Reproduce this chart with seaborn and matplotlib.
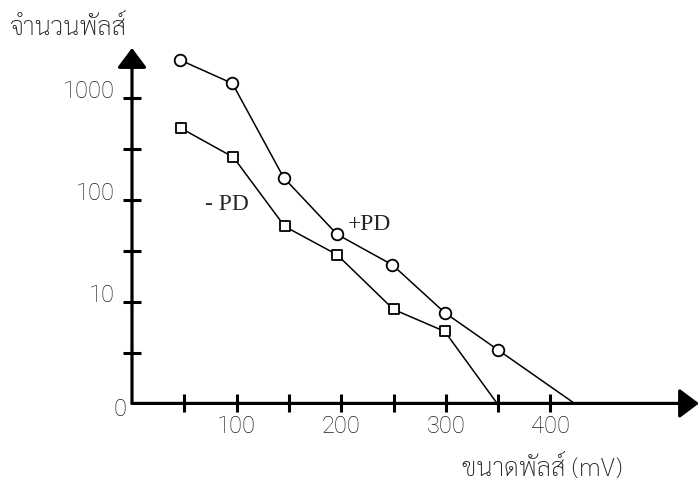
import numpy as np
import pandas as pd
import seaborn as sns
import matplotlib
matplotlib.use("Agg")
import matplotlib.pyplot as plt
from matplotlib.ticker import NullLocator
from matplotlib.transforms import ScaledTranslation

# +PD (circles), values
pos_mv = [46, 96, 145, 196, 249, 299, 350]
pos_count = [2380, 1400, 166, 46, 23, 7.8, 3.35]
pos_end_mv = 423
# -PD (squares)
neg_mv = [47, 97, 146, 196, 250, 299]
neg_count = [507, 263, 55, 29, 8.4, 5.1]
neg_end_mv = 349
floor_count = 1  # the "0" at the bottom of the log axis

x_ticks = [50, 100, 150, 200, 250, 300, 350, 400]
x_tick_labels = ["", "100", "", "200", "", "300", "", "400"]
y_ticks = [10 ** 0.5, 10, 10 ** 1.5, 100, 10 ** 2.5, 1000]
y_tick_labels = ["", "10", "", "100", "", "1000"]

x_title = "ขนาดพัลส์ (mV)"
y_title = "จำนวนพัลส์"

sns.set_style("white")
plt.rcParams["font.family"] = ["Roboto", "Liberation Sans", "DejaVu Sans"]
plt.rcParams["font.weight"] = "light"
thai_fam = ["Sarabun", "Noto Sans Thai Looped", "DejaVu Sans"]
grey = "#1e1e1e"

fig = plt.figure(figsize=(6.99, 4.82), dpi=100)
ax = fig.add_axes([132 / 699, 78.6 / 482, 567 / 699, 355.4 / 482])

pos = pd.DataFrame({"mV": pos_mv + [pos_end_mv], "count": pos_count + [floor_count]})
neg = pd.DataFrame({"mV": neg_mv + [neg_end_mv], "count": neg_count + [floor_count]})

sns.lineplot(data=pos, x="mV", y="count", ax=ax, color="black", lw=1.1)
sns.lineplot(data=neg, x="mV", y="count", ax=ax, color="black", lw=1.1)
sns.scatterplot(x=pos_mv, y=pos_count, ax=ax, marker="o", s=70, facecolor="white",
                edgecolor="black", linewidth=1.3, zorder=3, clip_on=False)
sns.scatterplot(x=neg_mv, y=neg_count, ax=ax, marker="s", s=60, facecolor="white",
                edgecolor="black", linewidth=1.3, zorder=3, clip_on=False)

ax.set_yscale("log")
ax.set_xlim(0, 542)
ax.set_ylim(1, 10 ** 3.495)
for s in ax.spines.values():
    s.set_visible(False)

# axes drawn as arrows
arrow = dict(arrowstyle="-|>,head_length=0.6,head_width=0.45", mutation_scale=20,
             lw=2.3, color="black", shrinkA=0, shrinkB=0)
ax.annotate("", xy=(1, 0), xytext=(0, 0), xycoords="axes fraction", arrowprops=arrow)
ax.annotate("", xy=(0, 1), xytext=(0, 0), xycoords="axes fraction", arrowprops=arrow)

ax.set_xticks(x_ticks)
ax.set_xticklabels(x_tick_labels)
ax.set_yticks(y_ticks)
ax.set_yticklabels(y_tick_labels)
ax.yaxis.set_minor_locator(NullLocator())
ax.tick_params(direction="inout", length=12.5, width=2.2, color="black",
               labelsize=17, labelcolor=grey, bottom=True, left=True)
ax.tick_params(axis="x", pad=2)
ax.tick_params(axis="y", pad=6)
for lab in ax.get_yticklabels():
    lab.set_transform(lab.get_transform() + ScaledTranslation(0, 0.09, fig.dpi_scale_trans))
ax.set_xlabel("")
ax.set_ylabel("")

fig.text(120 / 699, 1 - 410 / 482, "0", ha="center", va="center", fontsize=17, color=grey)

fig.text(205 / 699, 1 - 205 / 482, "- PD", ha="left", va="center",
         fontsize=17, family="Liberation Serif", fontweight="normal")
fig.text(348 / 699, 1 - 225 / 482, "+PD", ha="left", va="center",
         fontsize=17, family="Liberation Serif", fontweight="normal")

fig.text(10 / 699, 1 - 28 / 482, y_title, ha="left", va="center", fontsize=18.5,
         color=grey, family=thai_fam)
fig.text(462 / 699, 1 - 468 / 482, x_title, ha="left", va="center", fontsize=18.5,
         color=grey, family=thai_fam)

fig.savefig("out.png", dpi=100)
